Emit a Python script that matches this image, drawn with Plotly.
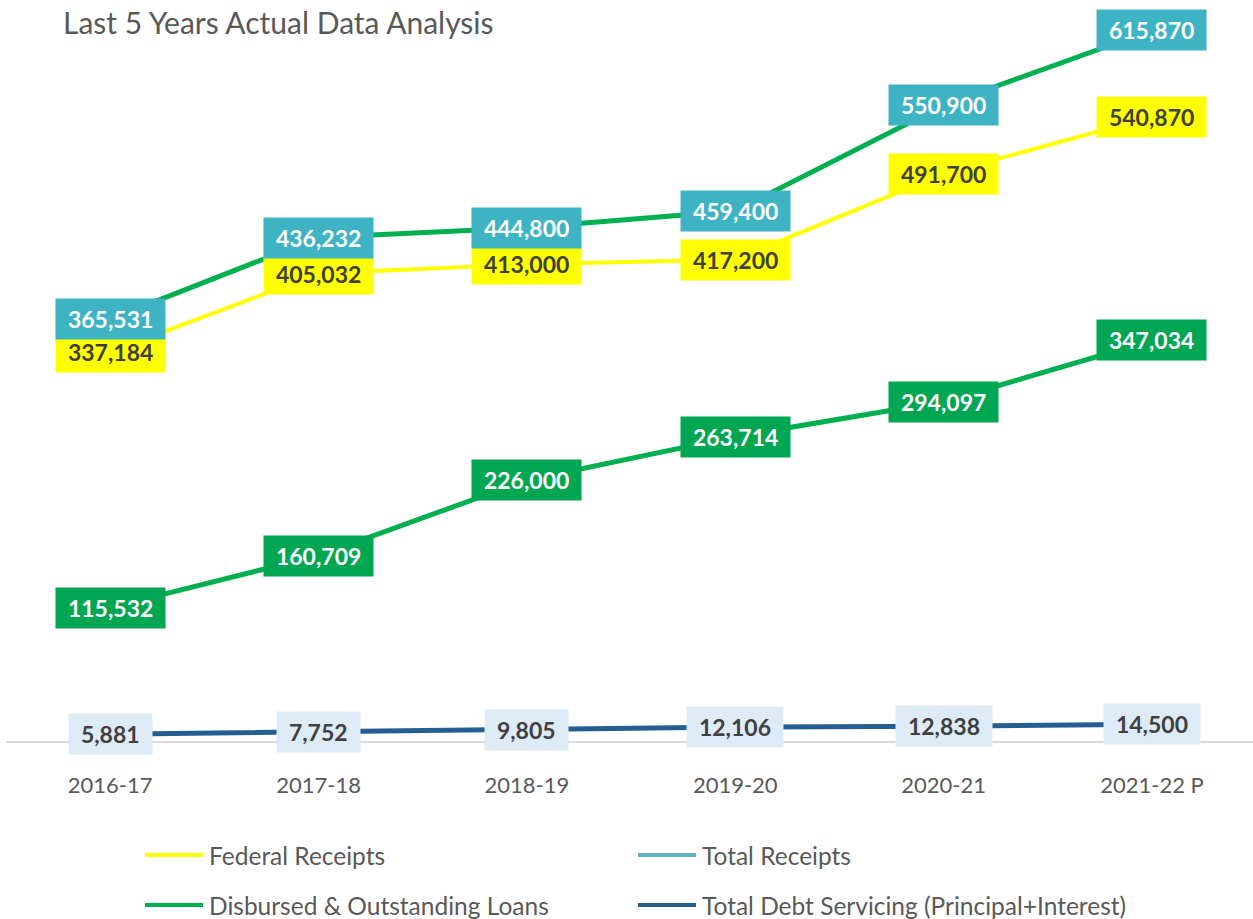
import plotly.graph_objects as go

years = ["2016-17", "2017-18", "2018-19", "2019-20", "2020-21", "2021-22 P"]
federal_receipts = [337184, 405032, 413000, 417200, 491700, 540870]
total_receipts = [365531, 436232, 444800, 459400, 550900, 615870]
disbursed_loans = [115532, 160709, 226000, 263714, 294097, 347034]
debt_servicing = [5881, 7752, 9805, 12106, 12838, 14500]

W, H = 1253, 919
ML, MR, MT, MB = 6, 0, 10, 178
PW, PH = W - ML - MR, H - MT - MB

FONT = "Lato"
GREY = "#595959"

series = [
    # name, values, line colour, width, label bg, label text colour, legend colour
    ("Federal Receipts", federal_receipts, "#FFFF00", 4, "#FFFF00", "#404040", "#FFFF00"),
    ("Total Receipts", total_receipts, "#00B050", 5, "#3EB3C4", "#FFFFFF", "#63B3BF"),
    ("Disbursed & Outstanding Loans", disbursed_loans, "#00B050", 5, "#00A651", "#FFFFFF", "#00B050"),
    ("Total Debt Servicing (Principal+Interest)", debt_servicing, "#255E91", 5, "#DDEBF7", "#404040", "#255E91"),
]

fig = go.Figure()
for name, vals, col, w, _, _, _ in series:
    fig.add_trace(go.Scatter(x=years, y=vals, mode="lines", name=name,
                             line=dict(color=col, width=w), showlegend=False,
                             hoverinfo="skip"))


def px2paper_x(px):
    return (px - ML) / PW


def py2paper_y(py):
    return (MT + PH - py) / PH


annotations = []
for name, vals, col, w, bg, fc, _ in series:
    for x, v in zip(years, vals):
        annotations.append(dict(
            x=x, y=v, xref="x", yref="y", text=f"&nbsp;<b>{v:,}</b>&nbsp;", showarrow=False,
            font=dict(family=FONT, size=23, color=fc), bgcolor=bg, borderpad=6,
            xanchor="center", yanchor="middle"))

# title
annotations.append(dict(x=px2paper_x(61), y=py2paper_y(22), xref="paper", yref="paper",
                        text="Last 5 Years Actual Data Analysis", showarrow=False,
                        xanchor="left", yanchor="middle",
                        font=dict(family=FONT, size=30, color=GREY)))

# custom legend (two columns, two rows)
shapes = []
legend_pos = [(145, 855), (638, 855), (145, 905), (638, 905)]
for (lx, ly), idx in zip(legend_pos, [0, 1, 2, 3]):
    name, _, _, _, _, _, lcol = series[idx]
    shapes.append(dict(type="line", xref="paper", yref="paper",
                       x0=px2paper_x(lx), x1=px2paper_x(lx + 58),
                       y0=py2paper_y(ly), y1=py2paper_y(ly),
                       line=dict(color=lcol, width=4)))
    annotations.append(dict(x=px2paper_x(lx + 62), y=py2paper_y(ly), xref="paper", yref="paper",
                            text=name, showarrow=False, xanchor="left", yanchor="middle",
                            font=dict(family=FONT, size=24.5, color=GREY)))

fig.update_layout(
    width=W, height=H,
    margin=dict(l=ML, r=MR, t=MT, b=MB),
    paper_bgcolor="white", plot_bgcolor="white",
    showlegend=False,
    xaxis=dict(type="category", range=[-0.5, 5.485], showgrid=False, zeroline=False,
               showline=True, linecolor="#D9D9D9", linewidth=2,
               ticks="", ticklabelstandoff=24,
               tickfont=dict(family=FONT, size=22, color=GREY)),
    yaxis=dict(range=[0, 633400], visible=False, showgrid=False, zeroline=False),
    annotations=annotations,
    shapes=shapes,
)

fig.write_html("out.html", config={"responsive": False, "displayModeBar": False},
               post_script="document.body.style.margin='0';document.body.style.overflow='hidden';")
